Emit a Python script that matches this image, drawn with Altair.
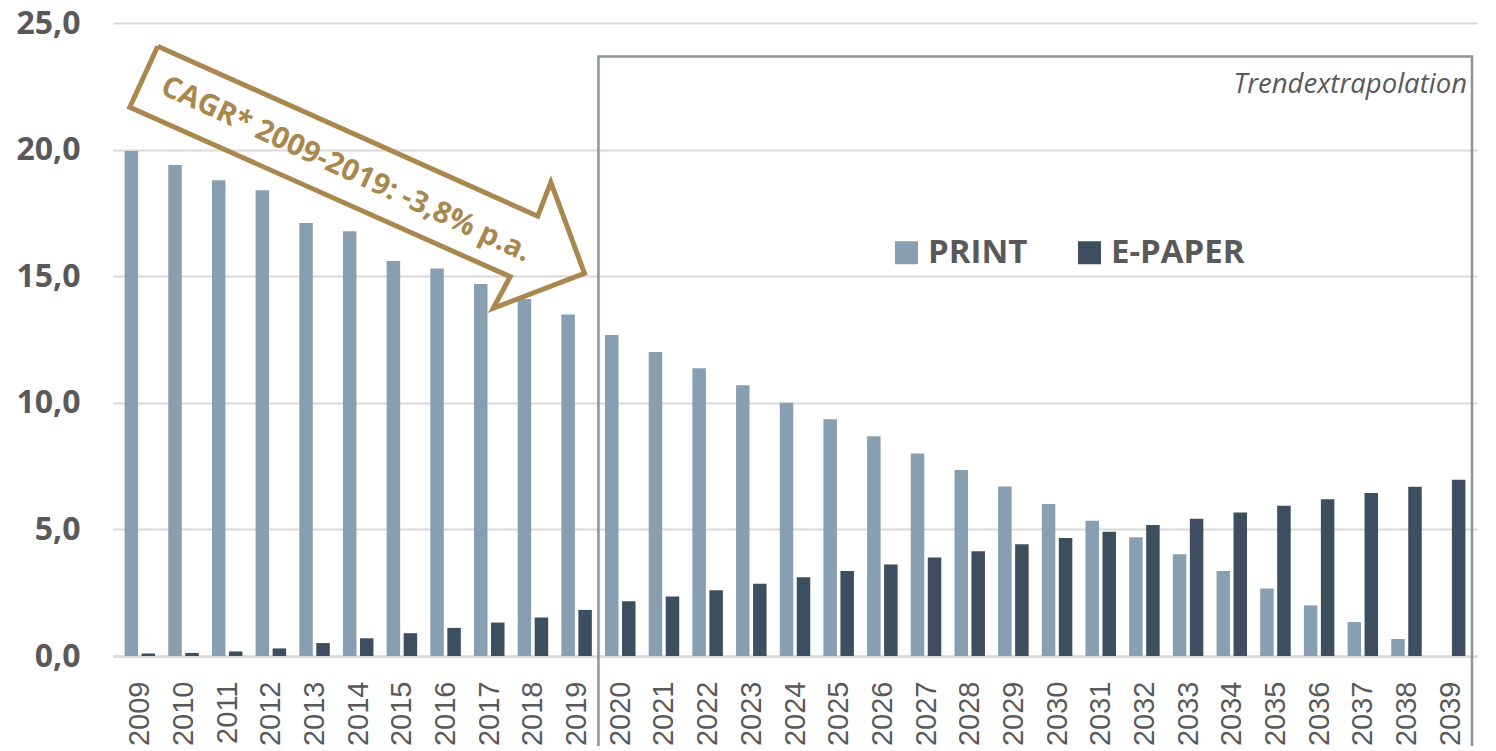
import altair as alt
import pandas as pd

# ---- data ----
years = [2009, 2010, 2011, 2012, 2013, 2014, 2015, 2016, 2017, 2018, 2019,
         2020, 2021, 2022, 2023, 2024, 2025, 2026, 2027, 2028, 2029,
         2030, 2031, 2032, 2033, 2034, 2035, 2036, 2037, 2038, 2039]
print_vals = [19.94, 19.39, 18.79, 18.39, 17.10, 16.78, 15.60, 15.30, 14.69, 14.10, 13.49,
              12.68, 12.01, 11.36, 10.69, 10.00, 9.35, 8.68, 8.00, 7.35, 6.69,
              6.00, 5.34, 4.69, 4.02, 3.36, 2.67, 2.00, 1.34, 0.67, 0.00]
epaper_vals = [0.10, 0.12, 0.18, 0.30, 0.51, 0.70, 0.90, 1.11, 1.32, 1.52, 1.82,
               2.16, 2.35, 2.60, 2.85, 3.11, 3.36, 3.61, 3.89, 4.14, 4.41,
               4.66, 4.91, 5.17, 5.42, 5.67, 5.93, 6.19, 6.44, 6.68, 6.96]
series_names = ["PRINT", "E-PAPER"]
series_colors = ["#889fb1", "#3d4f5e"]
y_ticks = [0, 5, 10, 15, 20, 25]

# annotation: forecast box (year range, top value)
box_x = [2019.5]
box_x2 = [2039.5]
box_y = [23.68]
box_y2 = [-5.0]
box_label = ["Trendextrapolation"]
box_label_y = [22.54]

# annotation: CAGR arrow outline (year, value) and its label
arrow_x = [2009.41, 2008.77, 2017.48, 2017.09, 2019.18, 2018.41, 2018.11, 2009.41]
arrow_y = [24.08, 21.67, 14.98, 13.73, 15.11, 18.71, 17.37, 24.08]
cagr_text = ["CAGR* 2009-2019: -3,8% p.a."]
cagr_x = [2013.72]
cagr_y = [19.22]

GOLD = "#a9884f"
GRAY_TXT = "#595959"

df = pd.DataFrame({
    "year": years + years,
    "value": print_vals + epaper_vals,
    "series": [series_names[0]] * len(years) + [series_names[1]] * len(years),
})

xscale = alt.Scale(domain=[2008.5, 2039.5], nice=False, zero=False)
yscale = alt.Scale(domain=[0, 25], nice=False, zero=False)
cscale = alt.Scale(domain=series_names, range=series_colors)

x_axis = alt.Axis(values=years, format="d", labelAngle=-90, labelFont="Liberation Sans",
                  labelFontSize=29, labelColor=GRAY_TXT, labelPadding=25, ticks=False,
                  tickSize=0, grid=False, domainColor="#d9d9d9", domainWidth=2.5,
                  labelFlush=False, labelOverlap=False, labelBound=False, title=None)
y_axis = alt.Axis(values=y_ticks, labelExpr="replace(format(datum.value, '.1f'), '.', ',')",
                  labelFont="Open Sans", labelFontWeight="bold", labelFontSize=32,
                  labelColor=GRAY_TXT, labelPadding=33, ticks=False, domain=False,
                  gridColor="#d9d9d9", gridWidth=2, labelFlush=False, title=None)

legend = alt.Legend(orient="none", legendX=777, legendY=213, direction="horizontal",
                    title=None, symbolType="square", symbolSize=529, symbolStrokeWidth=0,
                    labelFont="Open Sans", labelFontSize=33, labelFontWeight="bold",
                    labelColor=GRAY_TXT, labelOffset=5, columnPadding=45, padding=0)

base = alt.Chart(df)
print_bars = base.transform_filter(alt.datum.series == "PRINT").mark_bar(
    width=13.5, xOffset=-8.5).encode(
    x=alt.X("year:Q", scale=xscale, axis=x_axis),
    y=alt.Y("value:Q", scale=yscale, axis=y_axis),
    color=alt.Color("series:N", scale=cscale, legend=legend),
)
epaper_bars = base.transform_filter(alt.datum.series == "E-PAPER").mark_bar(
    width=13.5, xOffset=8.5).encode(
    x=alt.X("year:Q"),
    y=alt.Y("value:Q"),
    color=alt.Color("series:N"),
)

box_df = pd.DataFrame({"x": box_x, "x2": box_x2, "y": box_y, "y2": box_y2,
                       "label": box_label, "ly": box_label_y})
box = alt.Chart(box_df).mark_rect(fill=None, stroke="#8c959c", strokeWidth=2.5).encode(
    x="x:Q", x2="x2:Q", y="y:Q", y2="y2:Q")
trend_text = alt.Chart(box_df).mark_text(
    align="right", baseline="middle", dx=-5, font="Open Sans", fontStyle="italic",
    fontSize=27.5, color=GRAY_TXT).encode(x="x2:Q", y="ly:Q", text="label:N")

arrow_df = pd.DataFrame({"x": arrow_x, "y": arrow_y, "i": list(range(len(arrow_x)))})
arrow = alt.Chart(arrow_df).mark_line(color=GOLD, strokeWidth=5, strokeJoin="miter").encode(
    x="x:Q", y="y:Q", order="i:Q")

cagr_df = pd.DataFrame({"x": cagr_x, "y": cagr_y, "t": cagr_text})
cagr = alt.Chart(cagr_df).mark_text(
    align="center", baseline="middle", angle=24.8, font="Open Sans", fontWeight="bold",
    fontSize=29.5, color=GOLD).encode(x="x:Q", y="y:Q", text="t:N")

chart = alt.layer(print_bars, epaper_bars, box, arrow, cagr, trend_text).properties(
    width=1364, height=633,
    padding={"left": 105, "top": 15, "right": 10, "bottom": 90},
    autosize=alt.AutoSizeParams(type="none"),
    background="white",
).configure_view(stroke=None)

chart.save("out.html", embed_options={"renderer": "svg", "actions": False})
